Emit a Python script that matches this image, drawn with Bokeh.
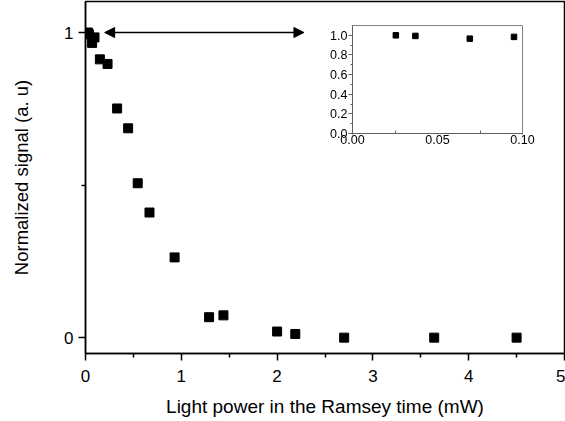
from bokeh.plotting import figure
from bokeh.models import FixedTicker, Arrow, NormalHead, CustomJSTickFormatter
from bokeh.embed import file_html
from bokeh.resources import INLINE

# main data: light power (mW) vs normalized signal
power = [0.025, 0.037, 0.069, 0.094, 0.15, 0.23, 0.33, 0.445, 0.545, 0.668,
         0.93, 1.29, 1.44, 2.0, 2.19, 2.70, 3.64, 4.50]
signal = [1.0, 0.994, 0.966, 0.984, 0.912, 0.897, 0.751, 0.686, 0.506, 0.41,
          0.263, 0.067, 0.073, 0.02, 0.012, 0.0, 0.0, 0.0]

# inset data (zoom on low power)
inset_power = [0.0255, 0.037, 0.069, 0.095]
inset_signal = [1.0, 0.994, 0.966, 0.984]

x_ticks = [0, 1, 2, 3, 4, 5]
x_minor = [0.5, 1.5, 2.5, 3.5, 4.5]
y_ticks = [0, 1]
y_minor = [0.5]
inset_x_ticks = [0.0, 0.05, 0.10]
inset_x_minor = [0.025, 0.075]
inset_y_ticks = [0.0, 0.2, 0.4, 0.6, 0.8, 1.0]
inset_y_minor = [0.1, 0.3, 0.5, 0.7, 0.9]

arrow_x = [0.2, 2.28]
arrow_y = 1.0

FONT = "Liberation Sans"

p = figure(width=565, height=421, x_range=(0, 5), y_range=(-0.052, 1.1016),
           output_backend="svg", toolbar_location=None,
           min_border_left=85, min_border_right=1, min_border_top=1, min_border_bottom=68)
p.grid.visible = False
p.outline_line_color = "black"
p.outline_line_width = 1.5

p.scatter(power, signal, marker="square", size=9, color="black")

p.add_layout(Arrow(start=NormalHead(size=10, fill_color="black", line_color="black"),
                   end=NormalHead(size=10, fill_color="black", line_color="black"),
                   x_start=arrow_x[0], x_end=arrow_x[1], y_start=arrow_y, y_end=arrow_y,
                   line_color="black", line_width=1.5))

for ax in (p.xaxis[0], p.yaxis[0]):
    ax.axis_line_width = 1.5
    ax.axis_line_color = "black"
    ax.major_tick_line_width = 1.5
    ax.minor_tick_line_width = 1.5
    ax.major_tick_out = 7
    ax.major_tick_in = 0
    ax.minor_tick_out = 4
    ax.minor_tick_in = 0
    ax.major_label_text_font = FONT
    ax.major_label_text_font_size = "17px"
    ax.major_label_text_color = "black"
    ax.axis_label_text_font = FONT
    ax.axis_label_text_font_style = "normal"
    ax.axis_label_text_color = "black"

p.xaxis.axis_label_text_font_size = "19px"
p.yaxis.axis_label_text_font_size = "18.5px"
p.xaxis.ticker = FixedTicker(ticks=x_ticks, minor_ticks=x_minor)
p.yaxis.ticker = FixedTicker(ticks=y_ticks, minor_ticks=y_minor)
p.xaxis.axis_label = "Light power in the Ramsey time (mW)"
p.yaxis.axis_label = "Normalized signal (a. u)"
p.xaxis.major_label_standoff = 9
p.xaxis.axis_label_standoff = 11
p.yaxis.major_label_standoff = 5
p.yaxis.axis_label_standoff = 29

# inset
ins = figure(width=225, height=135, x_range=(0, 0.1), y_range=(0, 1.1),
             output_backend="svg", toolbar_location=None,
             min_border_left=40, min_border_right=15, min_border_top=5, min_border_bottom=22,
             styles={"position": "fixed", "left": "312px", "top": "20px"})
ins.grid.visible = False
ins.outline_line_color = "#808080"
ins.outline_line_width = 1
ins.background_fill_alpha = 0
ins.border_fill_alpha = 0
ins.scatter(inset_power, inset_signal, marker="square", size=5.5, color="black")
for ax in (ins.xaxis[0], ins.yaxis[0]):
    ax.axis_line_color = "#606060"
    ax.major_tick_line_color = "#606060"
    ax.minor_tick_line_color = "#606060"
    ax.major_label_text_font = FONT
    ax.major_label_text_font_size = "12.5px"
    ax.major_label_text_color = "black"
    ax.major_label_standoff = 1
ins.yaxis.ticker = FixedTicker(ticks=inset_y_ticks, minor_ticks=inset_y_minor)
ins.xaxis.ticker = FixedTicker(ticks=inset_x_ticks, minor_ticks=inset_x_minor)
ins.yaxis.major_tick_out = 4
ins.yaxis.major_tick_in = 0
ins.yaxis.minor_tick_out = 2
ins.yaxis.minor_tick_in = 0
ins.xaxis.major_tick_out = 1
ins.xaxis.major_tick_in = 0
ins.xaxis.minor_tick_out = 0
ins.xaxis.minor_tick_in = 3
ins.xaxis.major_label_standoff = 0
ins.yaxis.formatter = CustomJSTickFormatter(code="return tick.toFixed(1);")
ins.xaxis.formatter = CustomJSTickFormatter(code="return tick.toFixed(2);")

open("out.html", "w").write(file_html([p, ins], INLINE))
